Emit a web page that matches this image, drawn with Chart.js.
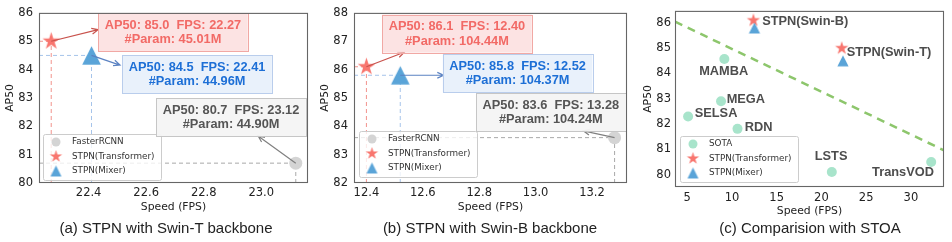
<!DOCTYPE html>
<html>
<head>
<meta charset="utf-8">
<script src="https://cdn.jsdelivr.net/npm/chart.js@4.4.1/dist/chart.umd.min.js"></script>
<style>
  html, body { margin: 0; padding: 0; background: #fff; }
  #wrap { position: relative; width: 952px; height: 242px; overflow: hidden; }
  canvas { position: absolute; top: 0; }
  .cap { position: absolute; top: 219px; width: 320px; text-align: center; line-height: 19px;
         font: 15px "Liberation Sans", Arial, sans-serif; color: #222; white-space: nowrap; }
</style>
</head>
<body>
<div id="wrap">
  <canvas id="chart-a" width="318" height="242" style="left:0"></canvas>
  <canvas id="chart-b" width="322" height="242" style="left:315px"></canvas>
  <canvas id="chart-c" width="317" height="242" style="left:635px"></canvas>
  <div class="cap" style="left:6px">(a) STPN with Swin-T backbone</div>
  <div class="cap" style="left:330px">(b) STPN with Swin-B backbone</div>
  <div class="cap" style="left:650px">(c) Comparision with STOA</div>
</div>
<script>
// ---- data (order: FasterRCNN, STPN(Transformer), STPN(Mixer)) ----
const methodNames = ["FasterRCNN", "STPN(Transformer)", "STPN(Mixer)"];

// (a) Swin-T backbone
const aFps = [23.12, 22.27, 22.41];
const aAp = [80.7, 85.0, 84.5];
const aParams = ["44.90M", "45.01M", "44.96M"];
const aXTicks = [22.4, 22.6, 22.8, 23.0];
const aYTicks = [80, 81, 82, 83, 84, 85, 86];

// (b) Swin-B backbone
const bFps = [13.28, 12.40, 12.52];
const bAp = [83.6, 86.1, 85.8];
const bParams = ["104.24M", "104.44M", "104.37M"];
const bXTicks = [12.4, 12.6, 12.8, 13.0, 13.2];
const bYTicks = [82, 83, 84, 85, 86, 87, 88];

// (c) comparison
const sotaNames = ["MAMBA", "MEGA", "SELSA", "RDN", "LSTS", "TransVOD"];
const sotaFps = [9.15, 8.78, 5.1, 10.62, 21.16, 32.27];
const sotaAp = [84.57, 82.9, 82.3, 81.81, 80.1, 80.5];
const stpnNames = ["STPN(Swin-B)", "STPN(Swin-T)"];
const stpnTransFps = [12.40, 22.27];
const stpnTransAp = [86.1, 85.0];
const stpnMixerFps = [12.52, 22.41];
const stpnMixerAp = [85.8, 84.5];
const trendFps = [3.64, 33.7];
const trendAp = [86.05, 80.96];
const cXTicks = [5, 10, 15, 20, 25, 30];
const cYTicks = [80, 81, 82, 83, 84, 85, 86];

// ---- placement of annotation boxes / labels (data coords) ----
const aNotePos = [
  { x: 22.895, y: 82.32, hx: 22.989, hy: 81.66 },
  { x: 22.693, y: 85.31, hx: 22.433, hy: 85.41 },
  { x: 22.777, y: 83.83, hx: 22.509, hy: 84.16 }
];
const bNotePos = [
  { x: 13.054, y: 84.49, hx: 13.169, hy: 83.84 },
  { x: 12.721, y: 87.27, hx: 12.534, hy: 86.61 },
  { x: 12.936, y: 85.87, hx: 12.674, hy: 85.80 }
];
const sotaLabelPos = [
  { x: 9.08, y: 84.08, align: "center" },
  { x: 9.41, y: 82.99, align: "left" },
  { x: 5.84, y: 82.40, align: "left" },
  { x: 11.43, y: 81.85, align: "left" },
  { x: 21.08, y: 80.72, align: "center" },
  { x: 29.12, y: 80.08, align: "center" }
];
const stpnLabelPos = [
  { x: 13.38, y: 86.04, align: "left" },
  { x: 22.82, y: 84.83, align: "left" }
];

// ---- styles ----
const RED = "#f8766f", BLUE = "#5aa4d8", LIGHTGRAY = "#d4d4d4", MINT = "#a8e4cb", GREEN = "#8dc66c";
const guideColors = ["#a9a9a9", "#f2938d", "#a6c4ea"];
const noteStyles = [
  { fill: "rgba(244,244,244,0.95)", border: "#c6c6c6", text: "#555555", arrow: "#808080" },
  { fill: "rgba(252,226,226,0.95)", border: "#f1a8a4", text: "#f26a66", arrow: "#c8524c" },
  { fill: "rgba(232,240,251,0.95)", border: "#b9cdec", text: "#1d6fd6", arrow: "#5b82c2" }
];
const tickFont = { family: "DejaVu Sans", size: 11.5 };
const titleFont = { family: "DejaVu Sans", size: 10.8 };
const boldFont = 'bold 12.8px "Liberation Sans", Arial, sans-serif';

function starImg(R, color) {
  const c = document.createElement("canvas");
  const s = Math.ceil(2 * R + 2);
  c.width = c.height = s;
  const g = c.getContext("2d");
  g.translate(s / 2, s / 2);
  g.beginPath();
  for (let i = 0; i < 10; i++) {
    const r = i % 2 ? R * 0.382 : R;
    const a = -Math.PI / 2 + i * Math.PI / 5;
    g.lineTo(r * Math.cos(a), r * Math.sin(a));
  }
  g.closePath();
  g.fillStyle = color;
  g.fill();
  return c;
}

function triImg(S, color) {
  const c = document.createElement("canvas");
  const s = Math.ceil(2 * S + 2);
  c.width = c.height = s;
  const g = c.getContext("2d");
  g.translate(s / 2, s / 2);
  g.beginPath();
  g.moveTo(0, -S);
  g.lineTo(-S, S);
  g.lineTo(S, S);
  g.closePath();
  g.fillStyle = color;
  g.fill();
  return c;
}

function pts(xs, ys) {
  return xs.map((x, i) => ({ x: x, y: ys[i] }));
}

function guideSets(fps, ap, xMin, yMin) {
  let sets = [];
  fps.forEach((f, i) => {
    const base = { showLine: true, pointRadius: 0, borderWidth: 1, borderDash: [4, 3],
                   borderColor: guideColors[i], order: 5 };
    sets.push(Object.assign({ data: [{ x: xMin, y: ap[i] }, { x: f, y: ap[i] }] }, base));
    sets.push(Object.assign({ data: [{ x: f, y: yMin }, { x: f, y: ap[i] }] }, base));
  });
  return sets;
}

function drawFrame(chart) {
  const { ctx, chartArea: a } = chart;
  ctx.save();
  ctx.strokeStyle = "#666";
  ctx.lineWidth = 1.1;
  ctx.strokeRect(a.left + 0.5, a.top + 0.5, a.right - a.left - 1, a.bottom - a.top - 1);
  ctx.restore();
}

function drawLegend(chart, entries, dx, dy) {
  const { ctx, chartArea: a } = chart;
  const w = 118, h = 46;
  const x0 = a.left + dx, y0 = a.bottom - dy - h;
  ctx.save();
  ctx.fillStyle = "rgba(255,255,255,0.8)";
  ctx.strokeStyle = "#cccccc";
  ctx.lineWidth = 1;
  ctx.beginPath();
  ctx.roundRect(x0 + 0.5, y0 + 0.5, w, h, 2);
  ctx.fill();
  ctx.stroke();
  const rows = [8, 22.5, 37];
  ctx.font = '8.8px "DejaVu Sans"';
  ctx.textBaseline = "middle";
  ctx.fillStyle = "#333";
  entries.forEach((e, i) => {
    const cy = y0 + rows[i];
    const cx = x0 + 13;
    if (e.kind === "circle") {
      ctx.beginPath();
      ctx.arc(cx, cy, 4.5, 0, Math.PI * 2);
      ctx.fillStyle = e.color;
      ctx.fill();
    } else {
      const img = e.kind === "star" ? starImg(6.5, e.color) : triImg(5.5, e.color);
      ctx.drawImage(img, cx - img.width / 2, cy - img.height / 2);
    }
    ctx.fillStyle = "#333";
    ctx.fillText(e.label, x0 + 29, cy);
  });
  ctx.restore();
}

function drawArrow(ctx, x1, y1, x2, y2, color) {
  const ang = Math.atan2(y2 - y1, x2 - x1);
  const L = 7, sp = 0.42;
  ctx.save();
  ctx.strokeStyle = color;
  ctx.lineWidth = 1.2;
  ctx.beginPath();
  ctx.moveTo(x1, y1);
  ctx.lineTo(x2, y2);
  ctx.moveTo(x2 - L * Math.cos(ang - sp), y2 - L * Math.sin(ang - sp));
  ctx.lineTo(x2, y2);
  ctx.lineTo(x2 - L * Math.cos(ang + sp), y2 - L * Math.sin(ang + sp));
  ctx.stroke();
  ctx.restore();
}

function drawNotes(chart, fps, ap, params, pos) {
  const { ctx, scales: { x, y } } = chart;
  fps.forEach((f, i) => {
    const p = pos[i], st = noteStyles[i];
    drawArrow(ctx, x.getPixelForValue(f), y.getPixelForValue(ap[i]),
              x.getPixelForValue(p.hx), y.getPixelForValue(p.hy), st.arrow);
  });
  fps.forEach((f, i) => {
    const p = pos[i], st = noteStyles[i];
    const lines = ["AP50: " + ap[i].toFixed(1) + "  FPS: " + f.toFixed(2), "#Param: " + params[i]];
    ctx.save();
    ctx.font = boldFont;
    const tw = Math.max(...lines.map(l => ctx.measureText(l).width));
    const bw = tw + 13, bh = 38;
    const cx = x.getPixelForValue(p.x), cy = y.getPixelForValue(p.y);
    ctx.fillStyle = st.fill;
    ctx.strokeStyle = st.border;
    ctx.lineWidth = 1;
    ctx.fillRect(cx - bw / 2, cy - bh / 2, bw, bh);
    ctx.strokeRect(Math.round(cx - bw / 2) + 0.5, Math.round(cy - bh / 2) + 0.5, Math.round(bw), bh);
    ctx.fillStyle = st.text;
    ctx.textAlign = "center";
    ctx.textBaseline = "middle";
    ctx.fillText(lines[0], cx, cy - 7);
    ctx.fillText(lines[1], cx, cy + 7.5);
    ctx.restore();
  });
}

function makeChart(id, o) {
  return new Chart(document.getElementById(id), {
    type: "scatter",
    data: { datasets: o.datasets },
    options: {
      responsive: false,
      animation: false,
      events: [],
      layout: { padding: { left: 0, right: o.padRight, top: 10, bottom: o.padBottom } },
      plugins: { legend: { display: false }, tooltip: { enabled: false } },
      scales: {
        x: {
          type: "linear", min: o.xMin, max: o.xMax,
          grid: { display: false, drawTicks: false }, border: { display: false },
          ticks: { font: tickFont, color: "#222", padding: o.xTickPad,
                   callback: v => o.xFmt(v) },
          title: { display: true, text: "Speed (FPS)", font: titleFont, color: "#222", padding: 0 },
          afterBuildTicks: s => { s.ticks = o.xTicks.map(v => ({ value: v })); },
          afterFit: s => { s.height = o.xHeight; }
        },
        y: {
          type: "linear", min: o.yMin, max: o.yMax,
          grid: { display: false, drawTicks: false }, border: { display: false },
          ticks: { font: tickFont, color: "#222", padding: o.yTickPad, callback: v => String(v) },
          title: { display: true, text: "AP50", font: titleFont, color: "#222",
                   padding: { top: o.yTitlePad, bottom: 0 } },
          afterBuildTicks: s => { s.ticks = o.yTicks.map(v => ({ value: v })); },
          afterFit: s => { s.width = o.yWidth; }
        }
      }
    },
    plugins: [{
      id: "overlay-" + id,
      afterDatasetsDraw: chart => { o.draw(chart); drawFrame(chart); }
    }]
  });
}

function pairDatasets(fps, ap, big) {
  return [
    { data: [{ x: fps[0], y: ap[0] }], pointStyle: "circle", pointRadius: big ? 6.5 : 5,
      backgroundColor: LIGHTGRAY, borderWidth: 0, order: 2 },
    { data: [{ x: fps[1], y: ap[1] }], pointStyle: starImg(9.3, RED), pointRadius: 9, order: 1 },
    { data: [{ x: fps[2], y: ap[2] }], pointStyle: triImg(9.3, BLUE), pointRadius: 9, order: 1 }
  ];
}

const pairLegend = [
  { kind: "circle", color: LIGHTGRAY, label: methodNames[0] },
  { kind: "star", color: RED, label: methodNames[1] },
  { kind: "tri", color: BLUE, label: methodNames[2] }
];

// (a)
makeChart("chart-a", {
  xMin: 22.2275, xMax: 23.1625, yMin: 80, yMax: 86,
  xTicks: aXTicks, yTicks: aYTicks, xFmt: v => v.toFixed(1),
  padRight: 10, padBottom: 28, xHeight: 31, yWidth: 39,
  xTickPad: 3, yTickPad: 6, yTitlePad: 3.5,
  datasets: guideSets(aFps, aAp, 22.2275, 80).concat(pairDatasets(aFps, aAp, true)),
  draw: chart => {
    drawLegend(chart, pairLegend, 4, 3);
    drawNotes(chart, aFps, aAp, aParams, aNotePos);
  }
});

// (b)
makeChart("chart-b", {
  xMin: 12.356, xMax: 13.324, yMin: 82, yMax: 88,
  xTicks: bXTicks, yTicks: bYTicks, xFmt: v => v.toFixed(1),
  padRight: 6, padBottom: 28, xHeight: 31, yWidth: 39,
  xTickPad: 3, yTickPad: 6, yTitlePad: 3.5,
  datasets: guideSets(bFps, bAp, 12.356, 82).concat(pairDatasets(bFps, bAp, true)),
  draw: chart => {
    drawLegend(chart, pairLegend, 5, 6);
    drawNotes(chart, bFps, bAp, bParams, bNotePos);
  }
});

// (c)
makeChart("chart-c", {
  xMin: 3.635, xMax: 33.7, yMin: 79.51, yMax: 86.475,
  xTicks: cXTicks, yTicks: cYTicks, xFmt: v => String(v),
  padRight: 5, padBottom: 24, xHeight: 31, yWidth: 40,
  xTickPad: 4, yTickPad: 4, yTitlePad: 6.5,
  datasets: [
    { data: pts(trendFps, trendAp), showLine: true, pointRadius: 0, borderColor: GREEN,
      borderWidth: 2.5, borderDash: [8, 6], order: 5 },
    { data: pts(sotaFps, sotaAp), pointStyle: "circle", pointRadius: 5,
      backgroundColor: MINT, borderWidth: 0, order: 3 },
    { data: pts(stpnTransFps, stpnTransAp), pointStyle: starImg(7, RED), pointRadius: 7, order: 2 },
    { data: pts(stpnMixerFps, stpnMixerAp), pointStyle: triImg(5.6, BLUE), pointRadius: 6, order: 1 }
  ],
  draw: chart => {
    const { ctx, scales: { x, y } } = chart;
    ctx.save();
    ctx.font = boldFont;
    ctx.fillStyle = "#4d4d4d";
    ctx.textBaseline = "middle";
    sotaNames.forEach((n, i) => {
      ctx.textAlign = sotaLabelPos[i].align;
      ctx.fillText(n, x.getPixelForValue(sotaLabelPos[i].x), y.getPixelForValue(sotaLabelPos[i].y));
    });
    stpnNames.forEach((n, i) => {
      ctx.textAlign = stpnLabelPos[i].align;
      ctx.fillText(n, x.getPixelForValue(stpnLabelPos[i].x), y.getPixelForValue(stpnLabelPos[i].y));
    });
    ctx.restore();
    drawLegend(chart, [
      { kind: "circle", color: MINT, label: "SOTA" },
      { kind: "star", color: RED, label: methodNames[1] },
      { kind: "tri", color: BLUE, label: methodNames[2] }
    ], 5, 5);
  }
});
</script>
</body>
</html>
